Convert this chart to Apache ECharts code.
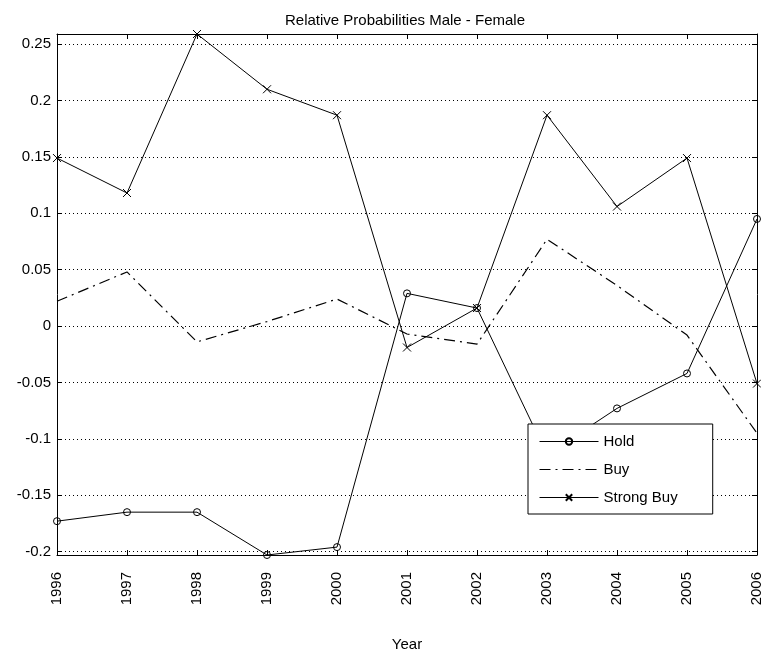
<!DOCTYPE html>
<html><head><meta charset="utf-8">
<script src="https://cdn.jsdelivr.net/npm/echarts@6/dist/echarts.min.js"></script>
<style>html,body{margin:0;padding:0;background:#fff}#c{width:761px;height:653px}</style>
</head><body><div id="c"></div>
<script>
const years = [1996, 1997, 1998, 1999, 2000, 2001, 2002, 2003, 2004, 2005, 2006];
const hold = [-0.173, -0.165, -0.165, -0.203, -0.196, 0.029, 0.016, -0.114, -0.073, -0.042, 0.095];
const buy = [0.022, 0.048, -0.014, 0.004, 0.024, -0.007, -0.016, 0.077, 0.036, -0.008, -0.095];
const strongBuy = [0.149, 0.118, 0.259, 0.210, 0.187, -0.019, 0.016, 0.187, 0.106, 0.149, -0.051];
const yTicks = [-0.2, -0.15, -0.1, -0.05, 0, 0.05, 0.1, 0.15, 0.2, 0.25];
const yMin = -0.203, yMax = 0.259;
const seriesNames = ['Hold', 'Buy', 'Strong Buy'];

const FONT = "'Liberation Sans', Arial, sans-serif";
const pair = arr => years.map((y, i) => [y, arr[i]]);
const fmtY = v => String(parseFloat(Number(v).toFixed(3)));

const chart = echarts.init(document.getElementById('c'), null, {renderer: 'canvas'});
const axisLine = {show: true, onZero: false, lineStyle: {color: '#000', width: 1}};
chart.setOption({
  animation: false,
  backgroundColor: '#fff',
  textStyle: {fontFamily: FONT},
  title: {
    text: 'Relative Probabilities Male - Female',
    left: 400, top: 8, textAlign: 'center',
    textStyle: {fontFamily: FONT, fontSize: 15, fontWeight: 'normal', color: '#000'}
  },
  grid: {left: 57, right: 4, top: 34, bottom: 98, containLabel: false, outerBoundsMode: 'none'},
  legend: {
    orient: 'vertical', left: 528, top: 424,
    data: [
      {name: 'Hold'},
      {name: 'Buy', itemStyle: {opacity: 0}},
      {name: 'Strong Buy'}
    ],
    backgroundColor: '#fff', borderColor: '#000', borderWidth: 1, borderRadius: 0,
    padding: [10, 35, 9, 11],
    itemWidth: 59, itemHeight: 8, itemGap: 13,
    lineStyle: {width: 1},
    textStyle: {fontFamily: FONT, fontSize: 15, color: '#000', lineHeight: 14},
    selectedMode: false
  },
  xAxis: [{
    type: 'value', min: 1996, max: 2006, interval: 1,
    name: 'Year', nameLocation: 'middle', nameGap: 82,
    nameTextStyle: {fontFamily: FONT, fontSize: 15, color: '#000'},
    axisLine: axisLine,
    axisTick: {show: true, inside: true, length: 5, lineStyle: {color: '#000'}},
    axisLabel: {rotate: 90, margin: 17, fontFamily: FONT, fontSize: 15, color: '#000', formatter: v => String(v)},
    splitLine: {show: false}
  }, {
    type: 'value', min: 1996, max: 2006, interval: 1, position: 'top',
    axisLine: axisLine,
    axisTick: {show: true, inside: true, length: 5, lineStyle: {color: '#000'}},
    axisLabel: {show: false}, splitLine: {show: false}
  }],
  yAxis: [{
    type: 'value', min: yMin, max: yMax,
    axisLine: axisLine,
    axisTick: {show: true, inside: true, length: 5, customValues: yTicks, lineStyle: {color: '#000'}},
    axisLabel: {customValues: yTicks, margin: 6, fontFamily: FONT, fontSize: 15, color: '#000', formatter: fmtY},
    splitLine: {show: true, lineStyle: {color: '#000', width: 1, type: [1, 3]}}
  }, {
    type: 'value', min: yMin, max: yMax, position: 'right',
    axisLine: axisLine,
    axisTick: {show: true, inside: true, length: 5, customValues: yTicks, lineStyle: {color: '#000'}},
    axisLabel: {show: false}, splitLine: {show: false}
  }],
  series: [{
    name: 'Hold', type: 'line', data: pair(hold),
    symbol: 'circle', symbolSize: 7, showAllSymbol: true,
    lineStyle: {color: '#000', width: 1}, itemStyle: {color: 'rgba(255,255,255,0)', borderColor: '#000', borderWidth: 1}
  }, {
    name: 'Buy', type: 'line', data: pair(buy),
    symbol: 'none', showSymbol: false,
    lineStyle: {color: '#000', width: 1.2, type: [11, 5, 2, 5]}, itemStyle: {color: '#000'}
  }, {
    name: 'Strong Buy', type: 'line', data: pair(strongBuy),
    symbol: 'path://M0,0L10,10M0,10L10,0', symbolSize: 8, showAllSymbol: true,
    lineStyle: {color: '#000', width: 1}, itemStyle: {color: '#000', borderColor: '#000', borderWidth: 1}
  }]
});
</script>
</body></html>
